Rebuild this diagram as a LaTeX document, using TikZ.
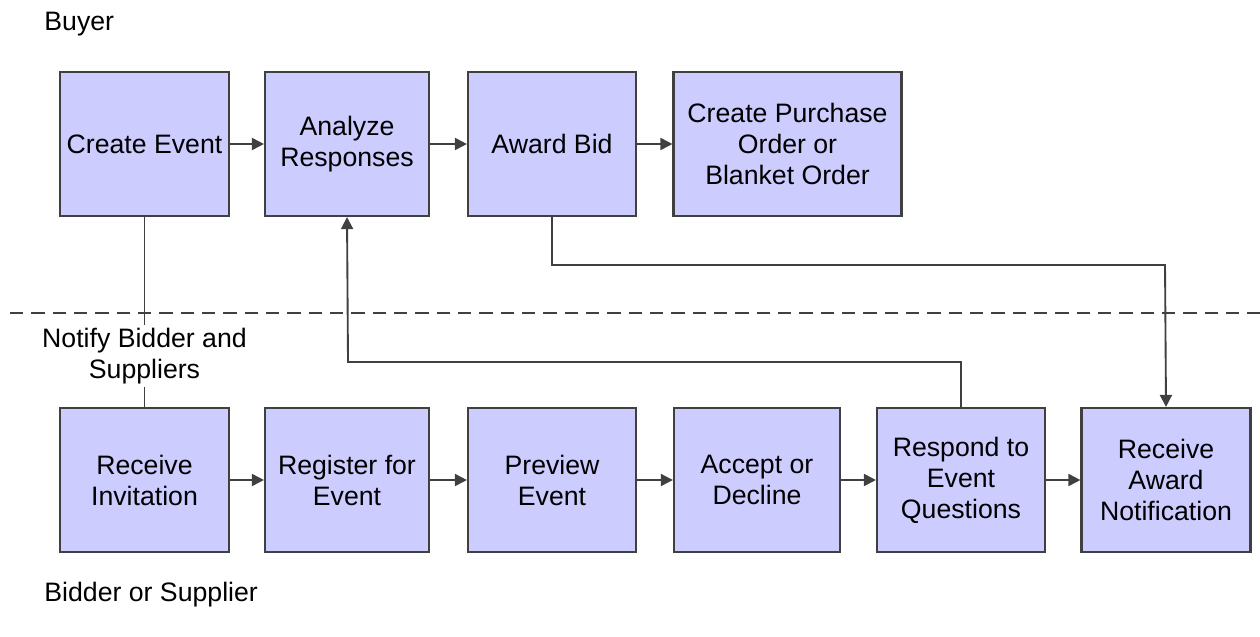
\documentclass[tikz,border=0pt]{standalone}
\usepackage{fontspec}
\setmainfont{Liberation Sans}
\usetikzlibrary{arrows.meta}
\definecolor{boxfill}{HTML}{CCCCFF}
\definecolor{boxline}{HTML}{404040}
\tikzset{
  stepbox/.style={draw=boxline,line width=0.8pt,fill=boxfill,align=center,
    minimum height=54pt,inner sep=2pt,font=\fontsize{10}{11.6}\selectfont},
  flow/.style={draw=boxline,line width=0.7pt,-{Triangle[length=4.5pt,width=4.5pt]}},
  link/.style={draw=boxline,line width=0.7pt}
}
\begin{document}
\begin{tikzpicture}[x=0.375pt,y=-0.375pt,font=\fontsize{10}{11.6}\selectfont]

\useasboundingbox (0,0) rectangle (1260,636);

\node[anchor=west] (buyer) at (35,24) {Buyer};
\node[anchor=west] (bidder) at (35,595) {Bidder or Supplier};

% buyer lane
\node[stepbox,minimum width=63.4pt] (create) at (144.5,144) {Create Event};
\node[stepbox,minimum width=61.5pt] (analyze) at (347,144) {Analyze\\Responses};
\node[stepbox,minimum width=63pt] (award) at (552,144) {Award Bid};
\node[stepbox,minimum width=85.5pt] (order) at (787.5,144) {Create Purchase\\Order or\\Blanket Order};

% lane border
\draw[boxline,line width=0.7pt,dash pattern=on 5pt off 3pt] (10,313) -- (1260,313);

% bidder lane
\node[stepbox,minimum width=63.4pt] (invite) at (144.5,480) {Receive\\Invitation};
\node[stepbox,minimum width=61.5pt] (register) at (347,480) {Register for\\Event};
\node[stepbox,minimum width=63pt] (preview) at (552,480) {Preview\\Event};
\node[stepbox,minimum width=62.3pt] (accept) at (757,480) {Accept or\\Decline};
\node[stepbox,minimum width=63pt] (respond) at (961,480) {Respond to\\Event\\Questions};
\node[stepbox,minimum width=63.4pt] (receive) at (1166,480) {Receive\\Award\\Notification};

\node[align=center,inner sep=1pt] (notify) at (144.5,356) {Notify Bidder and\\Suppliers};

\draw[flow] (create) -- (analyze);
\draw[flow] (analyze) -- (award);
\draw[flow] (award) -- (order);
\draw[flow] (invite) -- (register);
\draw[flow] (register) -- (preview);
\draw[flow] (preview) -- (accept);
\draw[flow] (accept) -- (respond);
\draw[flow] (respond) -- (receive);

\draw[link] (create) -- (notify);
\draw[link] (notify) -- (invite);
\draw[flow] (respond.north) |- (348,362) -- (analyze.south);
\draw[flow] (award.south) |- (1165,265) -- (receive.north);

\end{tikzpicture}
\end{document}
